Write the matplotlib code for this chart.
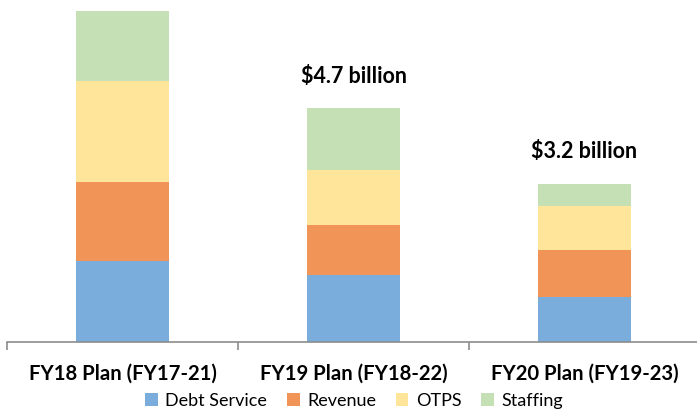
import matplotlib

matplotlib.use("Agg")
import matplotlib.pyplot as plt
from matplotlib.patches import Patch

# Capital plan funding by category, $ billions
plans = ["FY18 Plan (FY17-21)", "FY19 Plan (FY18-22)", "FY20 Plan (FY19-23)"]
series_names = ["Debt Service", "Revenue", "OTPS", "Staffing"]
debt_service = [1.63, 1.35, 0.90]
revenue = [1.59, 1.00, 0.94]
otps = [2.03, 1.10, 0.90]
staffing = [1.39, 1.25, 0.44]
total_labels = ["", "$4.7 billion", "$3.2 billion"]

colors = ["#7aaddc", "#f09557", "#fee599", "#c5e0b4"]
axis_grey = "#8c8c8c"

plt.rcParams["font.family"] = ["Lato", "DejaVu Sans"]

fig = plt.figure(figsize=(6.97, 4.09), dpi=100)
ax = fig.add_axes([7 / 697, 67 / 409, 693 / 697, 342 / 409])

x = list(range(len(plans)))
bottom = [0.0] * len(plans)
for values, color in zip([debt_service, revenue, otps, staffing], colors):
    ax.bar(x, values, width=0.4, bottom=bottom, color=color, linewidth=0)
    bottom = [b + v for b, v in zip(bottom, values)]

for xi, total, label in zip(x, bottom, total_labels):
    if label:
        ax.annotate(label, (xi, total), xytext=(0, 23), textcoords="offset points",
                    ha="center", va="center", fontsize=15.5, fontweight="bold")

ax.set_xlim(-0.5, 2.5)
ax.set_ylim(0, 6.87)
ax.set_yticks([])
for side in ["left", "right", "top"]:
    ax.spines[side].set_visible(False)
ax.spines["bottom"].set_color(axis_grey)
ax.spines["bottom"].set_linewidth(1.2)

ax.set_xticks(x)
ax.set_xticklabels(plans, fontsize=14.6, fontweight="bold")
ax.tick_params(axis="x", which="major", length=0, pad=15.5)
ax.set_xticks([-0.5, 0.5, 1.5, 2.5], minor=True)
ax.tick_params(axis="x", which="minor", length=5.5, width=1.2, color=axis_grey)

handles = [Patch(facecolor=c, edgecolor="none") for c in colors]
fig.legend(handles, series_names, loc="lower center", bbox_to_anchor=(0.508, -0.04),
           ncol=4, frameon=False, fontsize=13, handlelength=0.7, handleheight=0.7,
           handletextpad=0.4, columnspacing=1.1)

fig.savefig("out.png", dpi=100)
